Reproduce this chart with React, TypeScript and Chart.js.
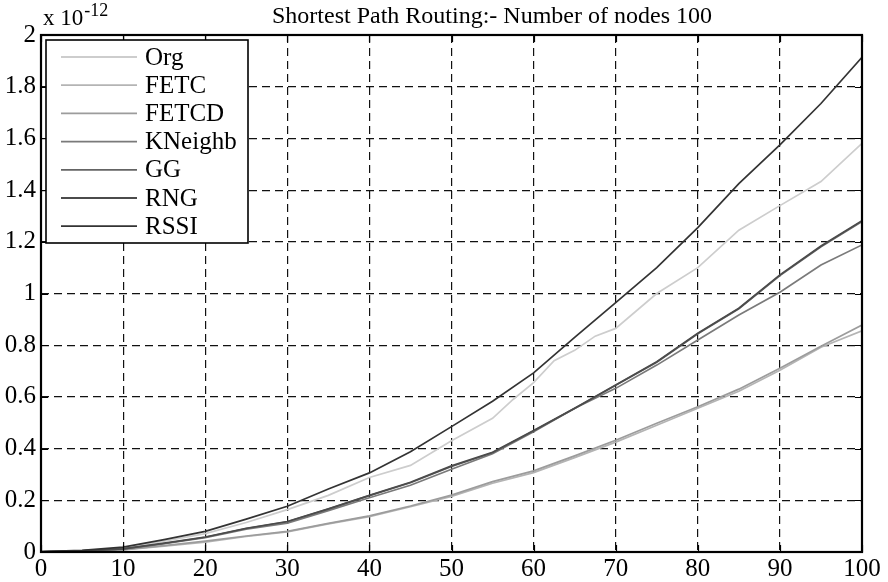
import { useEffect, useRef } from "react";
import { Chart, registerables } from "chart.js";

Chart.register(...registerables);

// Number of nodes (x axis)
const NODES = [0, 5, 10, 15, 20, 25, 30, 35, 40, 45, 50, 55, 60, 65, 70, 75, 80, 85, 90, 95, 100];
// Org is sampled a little more finely around its step near 55-70 nodes
const ORG_NODES = [0, 5, 10, 15, 20, 25, 30, 35, 40, 45, 50, 55, 57.5, 60, 62.5, 65, 67.5, 70, 75, 80, 85, 90, 95, 100];

// Energy per routed packet, in units of 1e-12
const ORG = [0.002, 0.005, 0.015, 0.042, 0.071, 0.114, 0.164, 0.219, 0.288, 0.335, 0.43, 0.517, 0.59, 0.655, 0.74, 0.78, 0.835, 0.865, 1.0, 1.1, 1.245, 1.34, 1.433, 1.581];
const FETC = [0.001, 0.003, 0.008, 0.023, 0.038, 0.06, 0.078, 0.109, 0.137, 0.175, 0.215, 0.266, 0.307, 0.365, 0.425, 0.49, 0.556, 0.622, 0.703, 0.792, 0.856];
const FETCD = [0.001, 0.003, 0.009, 0.025, 0.042, 0.062, 0.08, 0.111, 0.14, 0.178, 0.22, 0.272, 0.314, 0.372, 0.432, 0.498, 0.562, 0.63, 0.711, 0.796, 0.878];
const KNEIGHB = [0.001, 0.004, 0.011, 0.032, 0.055, 0.088, 0.112, 0.16, 0.21, 0.258, 0.32, 0.38, 0.465, 0.556, 0.633, 0.723, 0.82, 0.917, 1.005, 1.11, 1.188];
const GG = [0.001, 0.004, 0.012, 0.033, 0.057, 0.091, 0.117, 0.166, 0.218, 0.268, 0.331, 0.384, 0.468, 0.555, 0.645, 0.734, 0.844, 0.941, 1.069, 1.181, 1.279];
const RNG = [0.001, 0.004, 0.012, 0.034, 0.058, 0.092, 0.118, 0.167, 0.219, 0.27, 0.333, 0.386, 0.47, 0.556, 0.646, 0.736, 0.846, 0.943, 1.072, 1.184, 1.282];
const RSSI = [0.002, 0.006, 0.019, 0.048, 0.08, 0.127, 0.177, 0.244, 0.306, 0.388, 0.485, 0.583, 0.693, 0.83, 0.965, 1.1, 1.255, 1.425, 1.575, 1.735, 1.914];

const SERIES_NAMES = ["Org", "FETC", "FETCD", "KNeighb", "GG", "RNG", "RSSI"];
const SERIES_VALUES = [ORG, FETC, FETCD, KNEIGHB, GG, RNG, RSSI];
const SERIES_NODES = [ORG_NODES, NODES, NODES, NODES, NODES, NODES, NODES];
const SERIES_COLORS = ["#cdcdcd", "#b4b4b4", "#9c9c9c", "#7a7a7a", "#646464", "#4b4b4b", "#333333"];

const TITLE = "Shortest Path Routing:- Number of nodes 100";
const EXPONENT_BASE = "x 10";
const EXPONENT_POWER = "-12";

const X_MIN = 0;
const X_MAX = 100;
const X_STEP = 10;
const Y_MIN = 0;
const Y_MAX = 2;
const Y_STEP = 0.2;

const FONT_FAMILY = "'Liberation Serif', 'Times New Roman', serif";

const decorations = {
  id: "decorations",
  afterDraw(chart: any) {
    const { ctx, chartArea, scales } = chart;
    const { left, right, top, bottom } = chartArea;
    ctx.save();

    // inward tick marks on all four sides
    ctx.strokeStyle = "#000";
    ctx.lineWidth = 1.2;
    ctx.beginPath();
    scales.x.ticks.forEach((t: any) => {
      const px = Math.round(scales.x.getPixelForValue(t.value)) + 0.5;
      ctx.moveTo(px, bottom);
      ctx.lineTo(px, bottom - 7);
      ctx.moveTo(px, top);
      ctx.lineTo(px, top + 7);
    });
    scales.y.ticks.forEach((t: any) => {
      const py = Math.round(scales.y.getPixelForValue(t.value)) + 0.5;
      ctx.moveTo(left, py);
      ctx.lineTo(left + 7, py);
      ctx.moveTo(right, py);
      ctx.lineTo(right - 7, py);
    });
    ctx.stroke();

    // axes box
    ctx.lineWidth = 2.2;
    ctx.strokeRect(left, top, right - left, bottom - top);

    // legend
    const lx = 46;
    const ly = 40;
    const lw = 202;
    const lh = 203;
    ctx.fillStyle = "#fff";
    ctx.fillRect(lx, ly, lw, lh);
    ctx.lineWidth = 1.6;
    ctx.strokeStyle = "#000";
    ctx.strokeRect(lx, ly, lw, lh);
    ctx.font = `25px ${FONT_FAMILY}`;
    ctx.textAlign = "left";
    ctx.textBaseline = "middle";
    SERIES_NAMES.forEach((name, i) => {
      const rowY = 57 + i * 28.2;
      ctx.strokeStyle = SERIES_COLORS[i];
      ctx.lineWidth = 1.8;
      ctx.beginPath();
      ctx.moveTo(61, rowY);
      ctx.lineTo(137, rowY);
      ctx.stroke();
      ctx.fillStyle = "#000";
      ctx.fillText(name, 145, rowY + 1);
    });

    // title
    ctx.fillStyle = "#000";
    ctx.textBaseline = "alphabetic";
    ctx.textAlign = "center";
    ctx.font = `24px ${FONT_FAMILY}`;
    ctx.fillText(TITLE, 492, 23);

    // exponent
    ctx.textAlign = "left";
    ctx.font = `23px ${FONT_FAMILY}`;
    ctx.fillText(EXPONENT_BASE, 43, 25);
    const baseW = ctx.measureText(EXPONENT_BASE).width;
    ctx.font = `18px ${FONT_FAMILY}`;
    ctx.fillText(EXPONENT_POWER, 43 + baseW + 1, 16);

    ctx.restore();
  },
};

export default function App() {
  const canvasRef = useRef<HTMLCanvasElement | null>(null);

  useEffect(() => {
    document.body.style.margin = "0";
    const canvas = canvasRef.current;
    if (!canvas) return;

    const datasets = SERIES_NAMES.map((name, i) => ({
      label: name,
      data: SERIES_NODES[i].map((n, j) => ({ x: n, y: SERIES_VALUES[i][j] })),
      borderColor: SERIES_COLORS[i],
      backgroundColor: SERIES_COLORS[i],
      borderWidth: 1.7,
      pointRadius: 0,
      tension: 0,
      fill: false,
      order: SERIES_NAMES.length - 1 - i,
    }));

    const tickFont = { family: FONT_FAMILY, size: 25 };

    const chart = new Chart(canvas, {
      type: "line",
      data: { datasets },
      plugins: [decorations],
      options: {
        animation: false,
        responsive: false,
        events: [],
        layout: { padding: { top: 35, right: 26, left: 0, bottom: 0 } },
        plugins: {
          legend: { display: false },
          title: { display: false },
          tooltip: { enabled: false },
        },
        scales: {
          x: {
            type: "linear",
            min: X_MIN,
            max: X_MAX,
            afterFit: (scale: any) => {
              scale.height = 30;
            },
            ticks: {
              stepSize: X_STEP,
              color: "#000",
              font: tickFont,
              padding: 2,
              maxRotation: 0,
            },
            grid: { color: "#111", lineWidth: 1.2, drawTicks: false },
            border: { display: false, dash: [8, 5] },
          },
          y: {
            type: "linear",
            min: Y_MIN,
            max: Y_MAX,
            afterFit: (scale: any) => {
              scale.width = 41;
            },
            ticks: {
              stepSize: Y_STEP,
              color: "#000",
              font: tickFont,
              padding: 5,
              callback: (v: any) => String(Number(Number(v).toFixed(1))),
            },
            grid: { color: "#111", lineWidth: 1.2, drawTicks: false },
            border: { display: false, dash: [8, 5] },
          },
        },
      },
    });

    return () => chart.destroy();
  }, []);

  return (
    <div style={{ width: 888, height: 582, background: "#fff" }}>
      <canvas ref={canvasRef} width={888} height={582} style={{ display: "block" }} />
    </div>
  );
}
